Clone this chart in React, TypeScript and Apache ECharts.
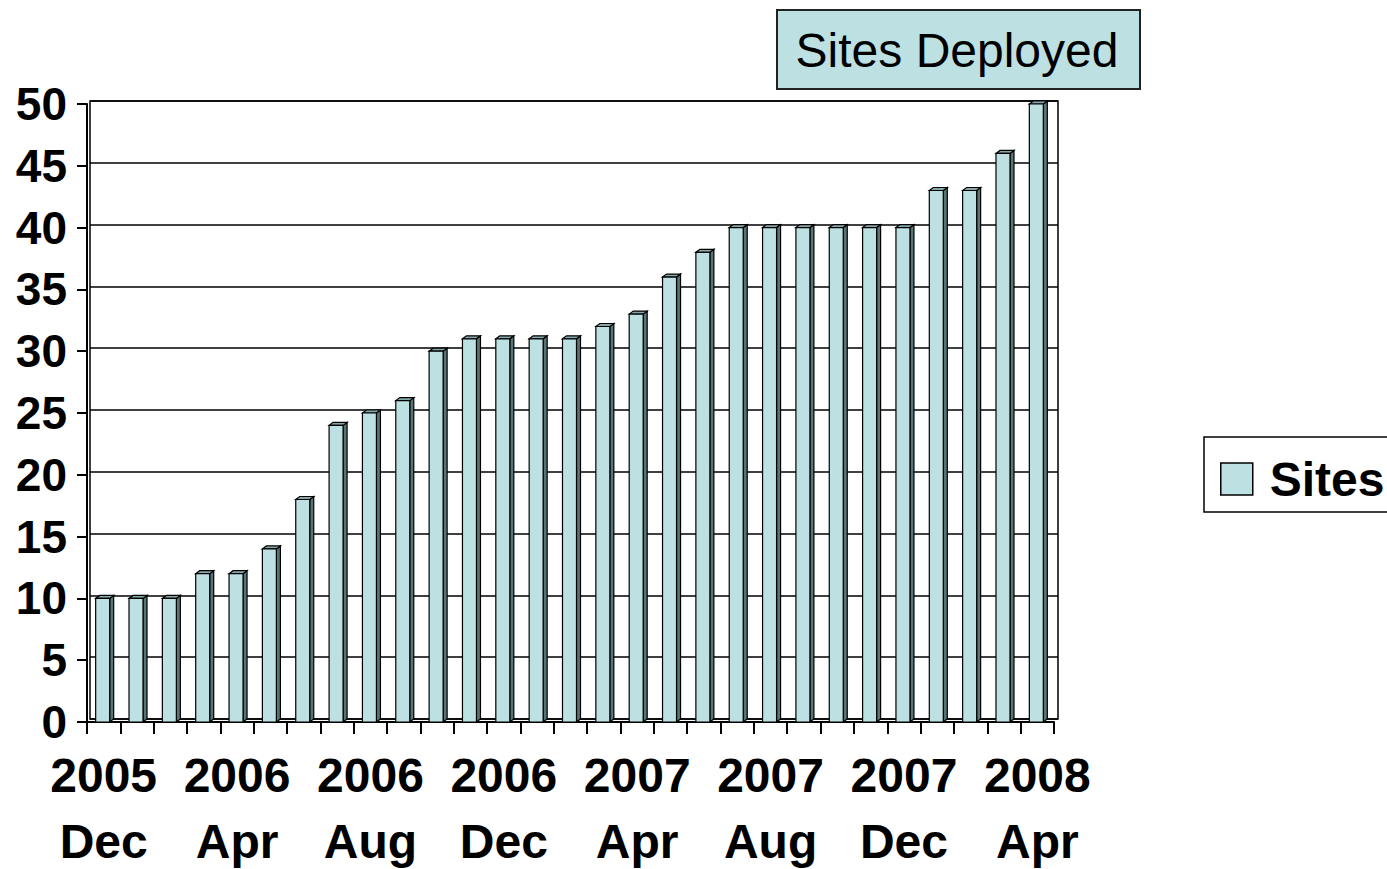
import React, { useEffect, useRef } from "react";
import * as echarts from "echarts";

const months = [
  "2005\nDec", "2006\nJan", "2006\nFeb", "2006\nMar", "2006\nApr", "2006\nMay", "2006\nJun",
  "2006\nJul", "2006\nAug", "2006\nSep", "2006\nOct", "2006\nNov", "2006\nDec",
  "2007\nJan", "2007\nFeb", "2007\nMar", "2007\nApr", "2007\nMay", "2007\nJun",
  "2007\nJul", "2007\nAug", "2007\nSep", "2007\nOct", "2007\nNov", "2007\nDec",
  "2008\nJan", "2008\nFeb", "2008\nMar", "2008\nApr",
];
const sites = [10, 10, 10, 12, 12, 14, 18, 24, 25, 26, 30, 31, 31, 31, 31, 32, 33, 36, 38, 40, 40, 40, 40, 40, 40, 43, 43, 46, 50];
const seriesName = "Sites";
const titleText = "Sites Deployed";

const FRONT = "#bde0e3";
const SIDE = "#587475";
const TOP = "#84a8aa";
const FONT = "'Liberation Sans', Arial, sans-serif";

export default function App() {
  const ref = useRef<HTMLDivElement>(null);
  useEffect(() => {
    const chart = echarts.init(ref.current!, null, { renderer: "svg" });
    const dx = 4;
    const dy = 3;
    chart.setOption({
      animation: false,
      backgroundColor: "#ffffff",
      textStyle: { fontFamily: FONT },
      graphic: [
        {
          type: "group",
          children: [
            {
              type: "rect",
              shape: { x: 777, y: 10, width: 363, height: 79 },
              style: { fill: FRONT, stroke: "#222", lineWidth: 2 },
            },
            {
              type: "text",
              x: 957,
              y: 50,
              style: {
                text: titleText,
                fontSize: 48,
                fontFamily: FONT,
                fill: "#000",
                align: "center",
                verticalAlign: "middle",
              },
            },
          ],
        },
      ],
      legend: {
        left: 1204,
        top: 437,
        orient: "vertical",
        padding: [18, 30, 9, 16],
        borderColor: "#000",
        borderWidth: 1.5,
        itemWidth: 32,
        itemHeight: 32,
        itemGap: 16,
        icon: "rect",
        textStyle: { fontSize: 48, fontWeight: "bold", color: "#000", fontFamily: FONT, padding: [0, 0, 0, 12] },
        data: [{ name: seriesName, itemStyle: { color: FRONT, borderColor: "#000", borderWidth: 1.5 } }],
      },
      grid: [
        { left: 87, right: 333, top: 104, bottom: 147, outerBoundsMode: "none", containLabel: false },
        { left: 90, right: 329, top: 101, bottom: 150, outerBoundsMode: "none", containLabel: false, show: true, borderColor: "#000", borderWidth: 1.5, backgroundColor: "transparent" },
      ],
      xAxis: [
        {
          type: "category",
          gridIndex: 0,
          data: months,
          boundaryGap: true,
          axisLine: { show: true, lineStyle: { color: "#000", width: 2 } },
          axisTick: { show: true, interval: 0, length: 12, lineStyle: { color: "#000", width: 2 } },
          axisLabel: {
            interval: 3,
            margin: 20,
            fontSize: 48,
            fontWeight: "bold",
            color: "#000",
            lineHeight: 66,
            fontFamily: FONT,
          },
          splitLine: { show: false },
        },
        { type: "value", gridIndex: 1, min: 0, max: 1, show: false },
      ],
      yAxis: [
        {
          type: "value",
          gridIndex: 0,
          min: 0,
          max: 50,
          interval: 5,
          axisLine: { show: true, lineStyle: { color: "#000", width: 2 } },
          axisTick: { show: true, length: 10, lineStyle: { color: "#000", width: 2 } },
          axisLabel: { margin: 20, fontSize: 46, fontWeight: "bold", color: "#000", fontFamily: FONT },
          splitLine: { show: false },
        },
        {
          type: "value",
          gridIndex: 1,
          min: 0,
          max: 50,
          interval: 5,
          axisLine: { show: false },
          axisTick: { show: false },
          axisLabel: { show: false },
          splitLine: { show: true, lineStyle: { color: "#000", width: 1.5 } },
        },
      ],
      series: [
        {
          name: seriesName,
          type: "custom",
          xAxisIndex: 0,
          yAxisIndex: 0,
          itemStyle: { color: FRONT },
          encode: { x: 0, y: 1 },
          data: sites.map((v, i) => [i, v]),
          z: 5,
          renderItem: (params: any, api: any) => {
            const idx = api.value(0);
            const v = api.value(1);
            const top = api.coord([idx, v]);
            const base = api.coord([idx, 0]);
            const cx = top[0];
            const fx0 = cx - 8;
            const fx1 = cx + 6;
            const ty = top[1];
            const by = base[1];
            return {
              type: "group",
              children: [
                {
                  type: "polygon",
                  shape: { points: [[fx1, ty], [fx1 + dx, ty - dy], [fx1 + dx, by - dy], [fx1, by]] },
                  style: { fill: SIDE, stroke: "#000", lineWidth: 1.2 },
                },
                {
                  type: "polygon",
                  shape: { points: [[fx0, ty], [fx0 + dx, ty - dy], [fx1 + dx, ty - dy], [fx1, ty]] },
                  style: { fill: TOP, stroke: "#000", lineWidth: 1.2 },
                },
                {
                  type: "rect",
                  shape: { x: fx0, y: ty, width: fx1 - fx0, height: by - ty },
                  style: { fill: FRONT, stroke: "#000", lineWidth: 1.2 },
                },
              ],
            };
          },
        },
      ],
    });
    return () => chart.dispose();
  }, []);
  return <div ref={ref} style={{ width: 1387, height: 869, position: "absolute", left: 0, top: 0 }} />;
}
